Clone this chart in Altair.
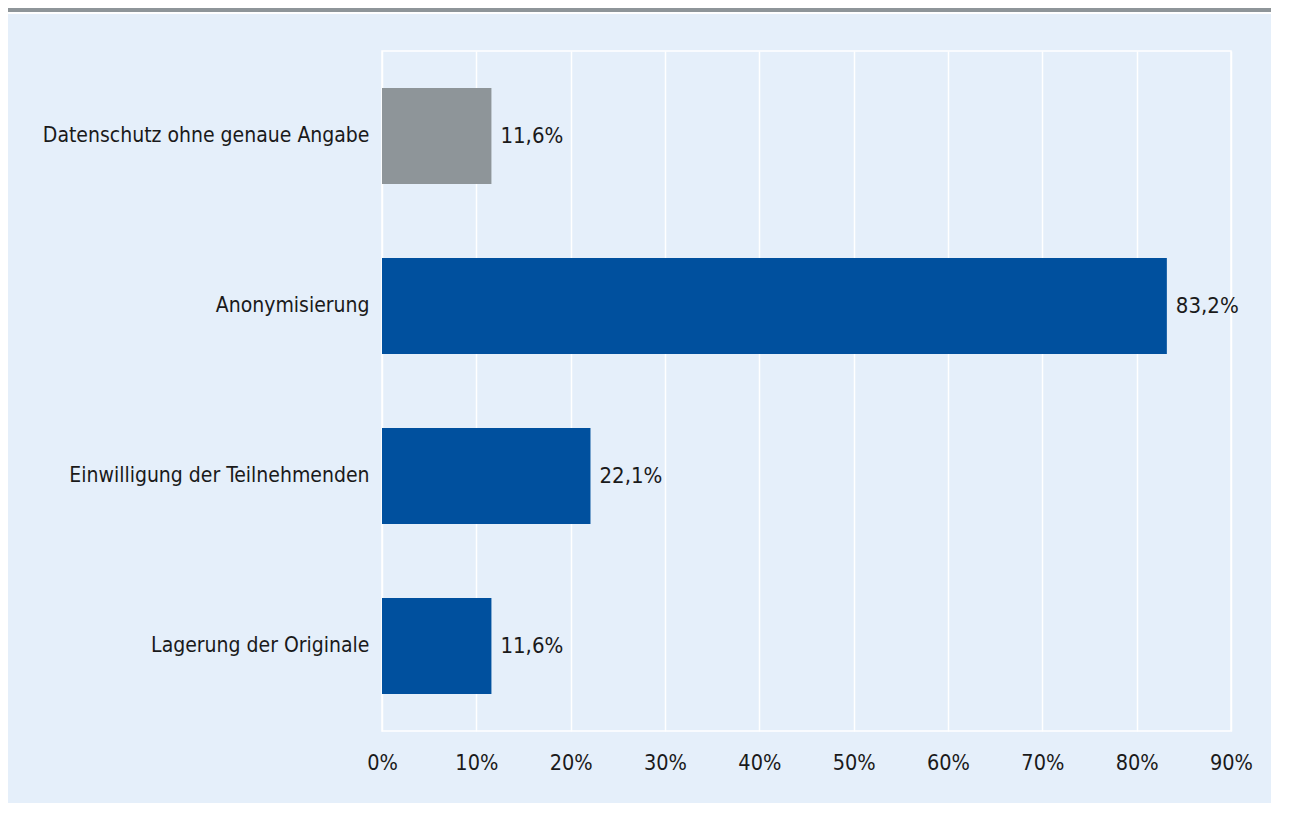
import altair as alt
import pandas as pd

categories = ["Datenschutz ohne genaue Angabe", "Anonymisierung",
              "Einwilligung der Teilnehmenden", "Lagerung der Originale"]
values = [11.6, 83.2, 22.1, 11.6]
groups = ["gray", "blue", "blue", "blue"]
x_ticks = [0, 10, 20, 30, 40, 50, 60, 70, 80, 90]

FONT = "Liberation Sans Narrow, DejaVu Sans Condensed, sans-serif"
BG = "#E5EFFA"
W, H = 849, 680
PL, PT, PR, PB = 374, 43, 40, 72

df = pd.DataFrame({"cat": categories, "val": values, "grp": groups})

y_enc = alt.Y("cat:N", sort=categories, title=None,
              scale=alt.Scale(paddingInner=0.435, paddingOuter=0.2175),
              axis=alt.Axis(labelFont=FONT, labelFontSize=21, labelColor="#1a1a1a",
                            labelPadding=13, ticks=False, domain=False, grid=False,
                            labelLimit=400))
x_enc = alt.X("val:Q", title=None,
              scale=alt.Scale(domain=[0, 90], nice=False),
              axis=alt.Axis(values=x_ticks, labelExpr="datum.value + '%'",
                            labelFont=FONT, labelFontSize=21.5, labelColor="#1a1a1a",
                            labelPadding=21, labelFlush=False, ticks=False, domain=False,
                            grid=True, gridColor="white", gridWidth=1.5))

topbar = alt.Chart(pd.DataFrame({"k": [0]})).mark_rect(color="#8E9599").encode(
    x=alt.value(-PL), x2=alt.value(W + PR), y=alt.value(-PT), y2=alt.value(-PT + 4))
gap = alt.Chart(pd.DataFrame({"k": [0]})).mark_rect(color="white").encode(
    x=alt.value(-PL), x2=alt.value(W + PR), y=alt.value(-PT + 4), y2=alt.value(-PT + 6))

bars = alt.Chart(df).mark_bar().encode(
    y=y_enc, x=x_enc,
    color=alt.Color("grp:N", scale=alt.Scale(domain=["gray", "blue"],
                                             range=["#8E9599", "#00509E"]), legend=None))

labels = alt.Chart(df).transform_calculate(
    lab="replace(format(datum.val, '.1f'), '.', ',') + '%'"
).mark_text(align="left", baseline="middle", dx=9, font=FONT, fontSize=22,
            color="#1a1a1a").encode(
    y=alt.Y("cat:N", sort=categories), x="val:Q", text="lab:N")

chart = alt.layer(bars, labels, topbar, gap).properties(
    width=W, height=H,
    padding={"left": PL, "top": PT, "right": PR, "bottom": PB},
    autosize=alt.AutoSizeParams(type="none"),
    background=BG
).configure_view(stroke="white", strokeWidth=1.5, fill=None)

chart.save("out.html", embed_options={"renderer": "svg", "actions": False})
